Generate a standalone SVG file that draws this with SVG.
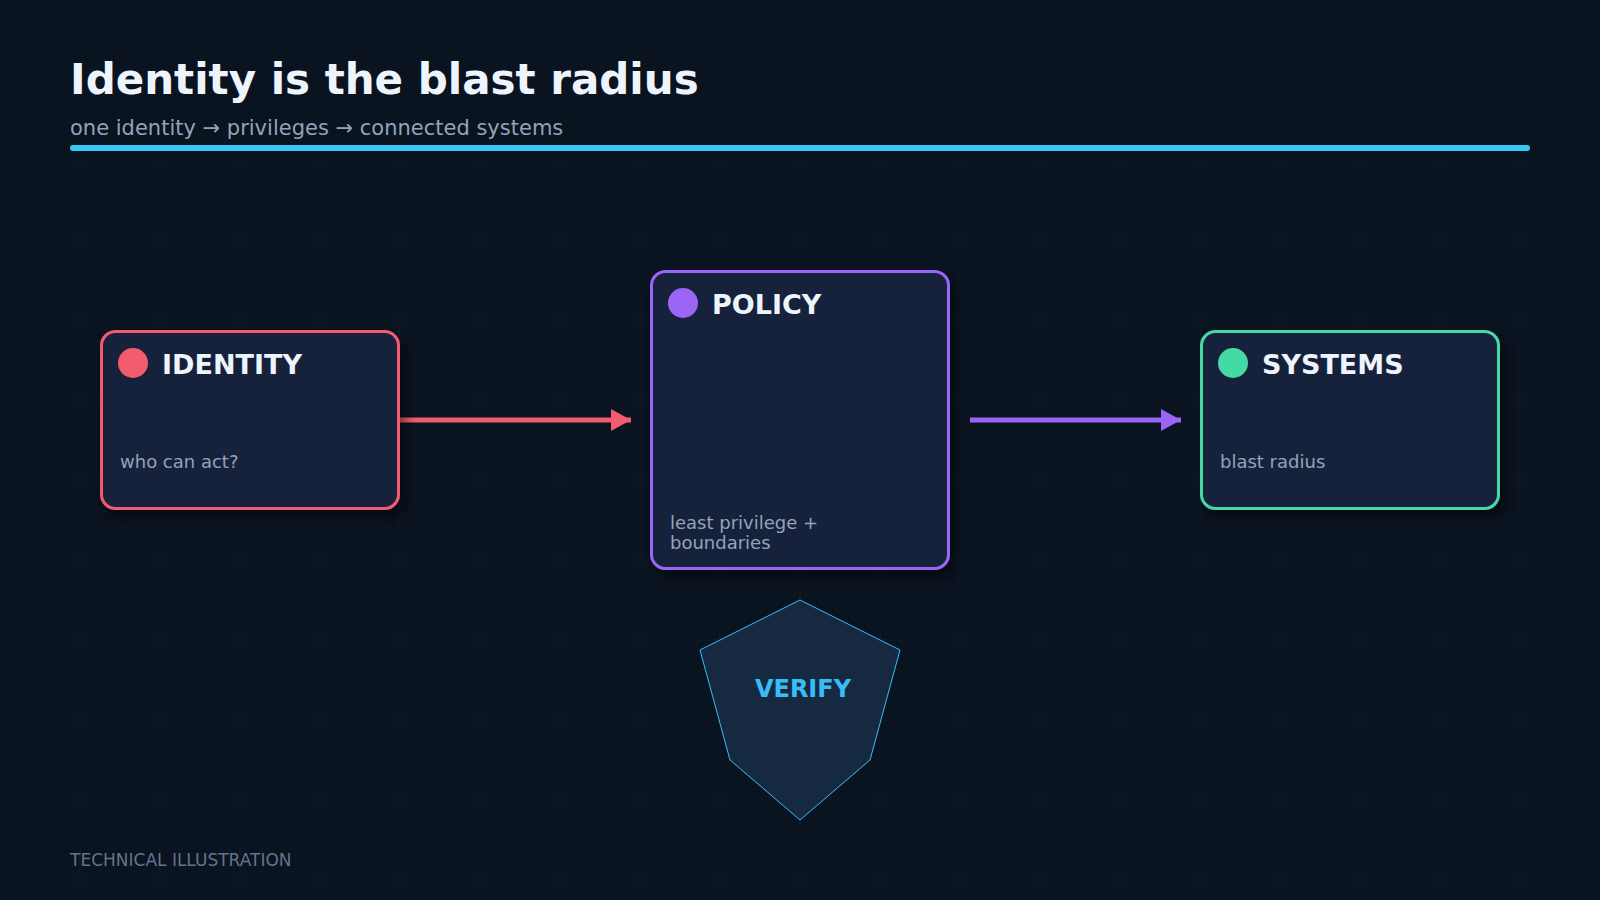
<svg xmlns="http://www.w3.org/2000/svg" width="1600" height="900" viewBox="0 0 1600 900">
  <defs>
    <style>
      .title{font-family:"DejaVu Sans","Liberation Sans",sans-serif;font-weight:bold;font-size:42px;fill:#eef4fb}
      .sub{font-family:"DejaVu Sans","Liberation Sans",sans-serif;font-size:21px;fill:#94a3b8}
      .foot{font-family:"DejaVu Sans","Liberation Sans",sans-serif;font-size:17px;fill:#64748b}
      .grid line{stroke:#131d2b;stroke-width:1}
      .box{fill:#14223a;stroke-width:3}
      .head{font-family:"DejaVu Sans","Liberation Sans",sans-serif;font-weight:bold;font-size:27px;fill:#eef4fb}
      .desc{font-family:"DejaVu Sans","Liberation Sans",sans-serif;font-size:18px;fill:#94a3b8}
      .verify{font-family:"DejaVu Sans","Liberation Sans",sans-serif;font-weight:bold;font-size:24px;fill:#38bdf8}
    </style>
    <filter id="shadow" x="-20%" y="-20%" width="150%" height="150%">
      <feDropShadow dx="6" dy="8" stdDeviation="6" flood-color="#000000" flood-opacity="0.45"/>
    </filter>
    <marker id="arrRed" viewBox="0 0 20 22" refX="20" refY="11" markerWidth="20" markerHeight="22" markerUnits="userSpaceOnUse" orient="auto">
      <path d="M0,0 L20,11 L0,22 Z" fill="#f25c6e"/>
    </marker>
    <marker id="arrPurple" viewBox="0 0 20 22" refX="20" refY="11" markerWidth="20" markerHeight="22" markerUnits="userSpaceOnUse" orient="auto">
      <path d="M0,0 L20,11 L0,22 Z" fill="#9b65f5"/>
    </marker>
  </defs>

  <rect x="0" y="0" width="1600" height="900" fill="#0a1320"/>

  <g class="grid">
    <line x1="80" y1="160" x2="80" y2="900"/>
    <line x1="160" y1="160" x2="160" y2="900"/>
    <line x1="240" y1="160" x2="240" y2="900"/>
    <line x1="320" y1="160" x2="320" y2="900"/>
    <line x1="400" y1="160" x2="400" y2="900"/>
    <line x1="480" y1="160" x2="480" y2="900"/>
    <line x1="560" y1="160" x2="560" y2="900"/>
    <line x1="640" y1="160" x2="640" y2="900"/>
    <line x1="720" y1="160" x2="720" y2="900"/>
    <line x1="800" y1="160" x2="800" y2="900"/>
    <line x1="880" y1="160" x2="880" y2="900"/>
    <line x1="960" y1="160" x2="960" y2="900"/>
    <line x1="1040" y1="160" x2="1040" y2="900"/>
    <line x1="1120" y1="160" x2="1120" y2="900"/>
    <line x1="1200" y1="160" x2="1200" y2="900"/>
    <line x1="1280" y1="160" x2="1280" y2="900"/>
    <line x1="1360" y1="160" x2="1360" y2="900"/>
    <line x1="1440" y1="160" x2="1440" y2="900"/>
    <line x1="1520" y1="160" x2="1520" y2="900"/>
    <line x1="0" y1="160" x2="1600" y2="160"/>
    <line x1="0" y1="240" x2="1600" y2="240"/>
    <line x1="0" y1="320" x2="1600" y2="320"/>
    <line x1="0" y1="400" x2="1600" y2="400"/>
    <line x1="0" y1="480" x2="1600" y2="480"/>
    <line x1="0" y1="560" x2="1600" y2="560"/>
    <line x1="0" y1="640" x2="1600" y2="640"/>
    <line x1="0" y1="720" x2="1600" y2="720"/>
    <line x1="0" y1="800" x2="1600" y2="800"/>
    <line x1="0" y1="880" x2="1600" y2="880"/>
  </g>

  <g id="header">
    <text class="title" x="70" y="94">Identity is the blast radius</text>
    <text class="sub" x="70" y="135">one identity → privileges → connected systems</text>
    <rect x="70" y="145" width="1460" height="6" rx="3" fill="#38c8f5"/>
  </g>

  <g id="connectors">
    <line x1="400" y1="420" x2="631" y2="420" stroke="#f25c6e" stroke-width="5" marker-end="url(#arrRed)"/>
    <line x1="970" y1="420" x2="1181" y2="420" stroke="#9b65f5" stroke-width="5" marker-end="url(#arrPurple)"/>
  </g>

  <g id="node-identity">
    <rect class="box" x="101.5" y="331.5" width="297" height="177" rx="14" stroke="#f25c6e" filter="url(#shadow)"/>
    <circle cx="133" cy="363" r="15" fill="#f25c6e"/>
    <text class="head" x="162" y="374">IDENTITY</text>
    <text class="desc" x="120" y="468">who can act?</text>
  </g>

  <g id="node-policy">
    <rect class="box" x="651.5" y="271.5" width="297" height="297" rx="14" stroke="#9b65f5" filter="url(#shadow)"/>
    <circle cx="683" cy="303" r="15" fill="#9b65f5"/>
    <text class="head" x="712" y="314">POLICY</text>
    <text class="desc" x="670" y="529">least privilege +</text>
    <text class="desc" x="670" y="549">boundaries</text>
  </g>

  <g id="node-systems">
    <rect class="box" x="1201.5" y="331.5" width="297" height="177" rx="14" stroke="#45d9a3" filter="url(#shadow)"/>
    <circle cx="1233" cy="363" r="15" fill="#45d9a3"/>
    <text class="head" x="1262" y="374">SYSTEMS</text>
    <text class="desc" x="1220" y="468">blast radius</text>
  </g>

  <g id="node-verify">
    <path d="M800,600 L900,650 L870,760 L800,820 L730,760 L700,650 Z" fill="#152a40" stroke="#38bdf8" stroke-width="1"/>
    <text class="verify" x="803" y="697" text-anchor="middle">VERIFY</text>
  </g>

  <g id="footer">
    <text class="foot" x="70" y="866">TECHNICAL ILLUSTRATION</text>
  </g>
</svg>
